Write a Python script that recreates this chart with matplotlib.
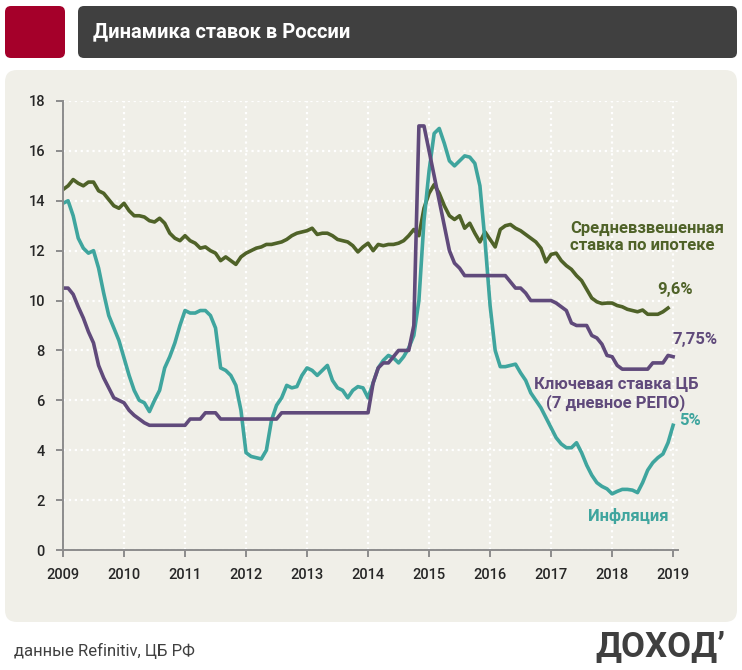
import numpy as np
import matplotlib.pyplot as plt
from matplotlib.patches import FancyBboxPatch

# monthly data, Jan 2009 .. Jan 2019
months = np.arange(121)
years = 2009 + months / 12

mortgage = [14.45, 14.6, 14.85, 14.7, 14.6, 14.75, 14.75, 14.4, 14.3, 14.05, 13.8, 13.7,
            13.9, 13.6, 13.4, 13.4, 13.35, 13.2, 13.15, 13.3, 13.1, 12.7, 12.5, 12.4,
            12.6, 12.4, 12.3, 12.1, 12.15, 12.0, 11.9, 11.6, 11.75, 11.6, 11.45, 11.75,
            11.9, 12.0, 12.1, 12.15, 12.25, 12.25, 12.3, 12.35, 12.45, 12.6, 12.7, 12.75,
            12.8, 12.9, 12.65, 12.7, 12.7, 12.6, 12.45, 12.4, 12.35, 12.2, 11.95, 12.15,
            12.3, 12.0, 12.25, 12.2, 12.25, 12.25, 12.3, 12.4, 12.6, 12.85, 12.6, 13.7,
            14.3, 14.65, 14.3, 13.8, 13.4, 13.25, 13.4, 12.9, 13.1, 12.7, 12.35, 12.75,
            12.45, 12.15, 12.85, 13.0, 13.05, 12.9, 12.8, 12.65, 12.5, 12.35, 12.1, 11.55,
            11.85, 11.9, 11.6, 11.4, 11.25, 11.0, 10.8, 10.45, 10.1, 9.95, 9.88, 9.9,
            9.9, 9.8, 9.75, 9.65, 9.6, 9.55, 9.62, 9.45, 9.45, 9.45, 9.55, 9.7,
            np.nan]

key_rate = [10.5, 10.5, 10.25, 9.75, 9.3, 8.75, 8.3, 7.4, 6.9, 6.5, 6.1, 6.0,
            5.9, 5.6, 5.4, 5.25, 5.1, 5.0, 5.0, 5.0, 5.0, 5.0, 5.0, 5.0,
            5.0, 5.25, 5.25, 5.25, 5.5, 5.5, 5.5, 5.25, 5.25, 5.25, 5.25, 5.25,
            5.25, 5.25, 5.25, 5.25, 5.25, 5.25, 5.25, 5.5, 5.5, 5.5, 5.5, 5.5,
            5.5, 5.5, 5.5, 5.5, 5.5, 5.5, 5.5, 5.5, 5.5, 5.5, 5.5, 5.5,
            5.5, 6.7, 7.3, 7.5, 7.5, 7.75, 8.0, 8.0, 8.0, 9.0, 17.0, 17.0,
            16.0, 15.0, 14.0, 13.0, 12.0, 11.5, 11.3, 11.0, 11.0, 11.0, 11.0, 11.0,
            11.0, 11.0, 11.0, 11.0, 10.75, 10.5, 10.5, 10.3, 10.0, 10.0, 10.0, 10.0,
            10.0, 9.9, 9.75, 9.6, 9.1, 9.0, 9.0, 9.0, 8.6, 8.5, 8.25, 7.8,
            7.75, 7.4, 7.25, 7.25, 7.25, 7.25, 7.25, 7.25, 7.5, 7.5, 7.5, 7.8,
            7.75]

inflation = [13.9, 14.0, 13.4, 12.5, 12.1, 11.9, 12.0, 11.3, 10.3, 9.4, 8.9, 8.4,
             7.7, 7.0, 6.4, 6.0, 5.9, 5.55, 6.0, 6.4, 7.3, 7.75, 8.3, 9.0,
             9.6, 9.5, 9.5, 9.6, 9.6, 9.4, 8.9, 7.3, 7.2, 7.0, 6.6, 5.6,
             3.9, 3.75, 3.7, 3.65, 4.0, 5.2, 5.8, 6.1, 6.6, 6.5, 6.55, 7.0,
             7.3, 7.2, 7.0, 7.2, 7.4, 6.8, 6.5, 6.4, 6.1, 6.4, 6.55, 6.5,
             6.1, 6.7, 7.3, 7.6, 7.8, 7.7, 7.5, 7.75, 8.1, 8.6, 10.0, 13.2,
             15.2, 16.7, 16.9, 16.3, 15.6, 15.4, 15.6, 15.8, 15.75, 15.5, 14.6, 12.4,
             9.8, 8.0, 7.35, 7.35, 7.4, 7.45, 7.1, 6.8, 6.3, 6.0, 5.7, 5.3,
             4.9, 4.5, 4.25, 4.1, 4.1, 4.3, 3.9, 3.4, 3.0, 2.7, 2.55, 2.45,
             2.25, 2.35, 2.43, 2.43, 2.4, 2.3, 2.7, 3.2, 3.5, 3.7, 3.85, 4.3,
             5.0]

year_ticks = list(range(2009, 2020))
y_ticks = list(range(0, 19, 2))

title = 'Динамика ставок в России'
source = 'данные Refinitiv, ЦБ РФ'

olive = '#4F6228'
purple = '#604A7B'
teal = '#3FA59E'
panel = '#F0EFE8'

plt.rcParams['font.family'] = ['Roboto', 'DejaVu Sans']

W, H = 742, 670
fig = plt.figure(figsize=(W / 100, H / 100), dpi=100)


def box(x0, y0, x1, y1, color, r):
    # pixel box (top-left origin) drawn in figure inches
    p = FancyBboxPatch((x0 / 100, (H - y1) / 100), (x1 - x0) / 100, (y1 - y0) / 100,
                       boxstyle='round,pad=0,rounding_size=%f' % (r / 100),
                       transform=fig.dpi_scale_trans, fc=color, ec='none', zorder=-5)
    fig.patches.append(p)


box(5, 6, 65, 58, '#A5002A', 6)
box(78, 6, 737, 58, '#404040', 6)
box(5, 70, 737, 622, panel, 12)

fig.text(93 / W, 1 - 32 / H, title, color='white', fontsize=14.5, fontweight='bold',
         va='center', ha='left')
fig.text(14 / W, 1 - 651 / H, source, color='#404040', fontsize=12, va='center', ha='left')
fig.text(725 / W, 1 - 647 / H, 'ДОХОД’', color='#3F3F3F', fontsize=25, fontweight='bold',
         va='center', ha='right')

ax = fig.add_axes([63 / W, 120 / H, 615 / W, 449 / H])
ax.patch.set_alpha(0)

ax.plot(years, mortgage, color=olive, lw=2.6, solid_joinstyle='round')
ax.plot(years, inflation, color=teal, lw=2.6, solid_joinstyle='round')
ax.plot(years, key_rate, color=purple, lw=2.6, solid_joinstyle='round')

ax.set_xlim(2009, 2019.08)
ax.set_ylim(0, 18)
ax.set_xticks(year_ticks)
ax.set_yticks(y_ticks)
ax.grid(True, color='white', ls=':', lw=1.6)
ax.set_axisbelow(True)
for s in ['top', 'right']:
    ax.spines[s].set_visible(False)
for s in ['left', 'bottom']:
    ax.spines[s].set_color('#8C8C8C')
    ax.spines[s].set_linewidth(1.4)
ax.tick_params(axis='both', colors='#8C8C8C', width=1.4, length=5, labelsize=10.5,
               labelcolor='#262626')
ax.tick_params(axis='x', pad=8)
ax.tick_params(axis='y', pad=8)
for lab in ax.get_xticklabels() + ax.get_yticklabels():
    lab.set_fontweight('medium')

ax.text(2017.31, 12.56, 'Средневзвешенная\nставка по ипотеке', color=olive, fontsize=12,
        fontweight='bold', ha='left', va='center', linespacing=1.15)
ax.text(2019.03, 10.43, '9,6%', color=olive, fontsize=12, fontweight='bold',
        ha='center', va='center', clip_on=False)
ax.text(2019.36, 8.42, '7,75%', color=purple, fontsize=12, fontweight='bold',
        ha='center', va='center', clip_on=False)
ax.text(2018.06, 6.24, 'Ключевая ставка ЦБ\n(7 дневное РЕПО)', color=purple, fontsize=12,
        fontweight='bold', ha='center', va='center', multialignment='center',
        linespacing=1.15)
ax.text(2019.28, 5.18, '5%', color=teal, fontsize=12, fontweight='bold',
        ha='center', va='center', clip_on=False)
ax.text(2018.26, 1.36, 'Инфляция', color=teal, fontsize=12, fontweight='bold',
        ha='center', va='center')

fig.savefig('out.png', dpi=100)
